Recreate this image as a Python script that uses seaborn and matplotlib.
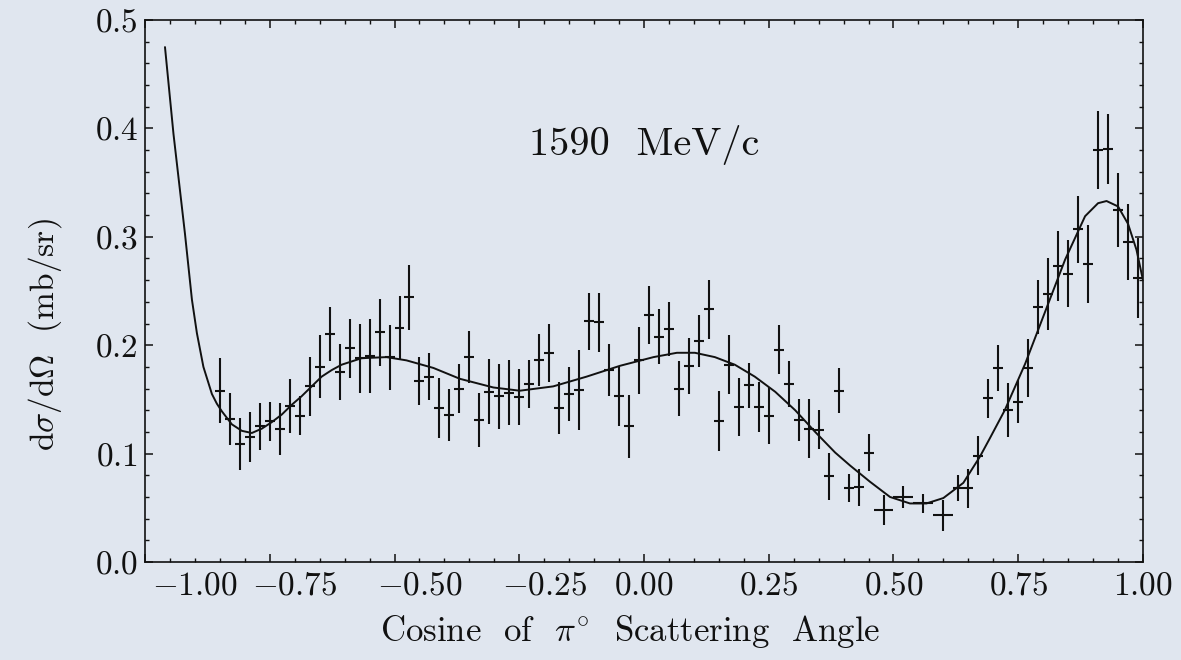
import numpy as np
import pandas as pd
import matplotlib
matplotlib.use("Agg")
import matplotlib.pyplot as plt
import matplotlib.transforms as mtransforms
from matplotlib.ticker import MultipleLocator
import seaborn as sns

# ---- data ----
cos_theta = [-0.85, -0.83, -0.81, -0.79, -0.77, -0.75, -0.73, -0.71, -0.69, -0.67,
             -0.65, -0.63, -0.61, -0.59, -0.57, -0.55, -0.53, -0.51, -0.49, -0.47,
             -0.45, -0.43, -0.41, -0.39, -0.37, -0.35, -0.33, -0.31, -0.29, -0.27,
             -0.25, -0.23, -0.21, -0.19, -0.17, -0.15, -0.13, -0.11, -0.09, -0.07,
             -0.05, -0.03, -0.01, 0.01, 0.03, 0.05, 0.07, 0.09, 0.11, 0.13,
             0.15, 0.17, 0.19, 0.21, 0.23, 0.25, 0.27, 0.29, 0.31, 0.33,
             0.35, 0.37, 0.39, 0.41, 0.43, 0.45, 0.48, 0.52, 0.56, 0.60,
             0.63, 0.65, 0.67, 0.69, 0.71, 0.73, 0.75, 0.77, 0.79, 0.81,
             0.83, 0.85, 0.87, 0.89, 0.91, 0.93, 0.95, 0.97, 0.99]
dsigma = [0.158, 0.132, 0.109, 0.115, 0.125, 0.130, 0.123, 0.144, 0.135, 0.162,
          0.180, 0.210, 0.175, 0.197, 0.188, 0.190, 0.212, 0.189, 0.216, 0.244,
          0.167, 0.171, 0.142, 0.136, 0.160, 0.189, 0.131, 0.157, 0.153, 0.156,
          0.152, 0.164, 0.186, 0.193, 0.142, 0.155, 0.159, 0.222, 0.221, 0.177,
          0.153, 0.125, 0.186, 0.228, 0.208, 0.215, 0.160, 0.181, 0.204, 0.233,
          0.130, 0.182, 0.143, 0.163, 0.143, 0.135, 0.196, 0.164, 0.131, 0.123,
          0.122, 0.079, 0.158, 0.068, 0.069, 0.101, 0.048, 0.060, 0.054, 0.043,
          0.068, 0.068, 0.098, 0.151, 0.179, 0.140, 0.148, 0.179, 0.235, 0.247,
          0.273, 0.266, 0.307, 0.275, 0.380, 0.381, 0.325, 0.295, 0.262]
dsigma_err = [0.030, 0.024, 0.024, 0.023, 0.022, 0.018, 0.024, 0.025, 0.018, 0.027,
              0.029, 0.025, 0.026, 0.027, 0.032, 0.034, 0.031, 0.030, 0.029, 0.030,
              0.022, 0.022, 0.028, 0.024, 0.023, 0.024, 0.025, 0.030, 0.030, 0.030,
              0.026, 0.022, 0.024, 0.027, 0.024, 0.025, 0.037, 0.026, 0.027, 0.024,
              0.028, 0.029, 0.031, 0.027, 0.025, 0.025, 0.025, 0.026, 0.024, 0.027,
              0.028, 0.027, 0.027, 0.021, 0.023, 0.026, 0.023, 0.021, 0.019, 0.027,
              0.018, 0.022, 0.021, 0.013, 0.017, 0.017, 0.014, 0.010, 0.009, 0.014,
              0.012, 0.018, 0.018, 0.018, 0.021, 0.025, 0.020, 0.027, 0.025, 0.033,
              0.032, 0.031, 0.031, 0.036, 0.036, 0.032, 0.034, 0.035, 0.037]
bin_half = [0.01] * 66 + [0.02] * 4 + [0.01] * 19

# fitted curve
fit_x = [-0.960, -0.943, -0.920, -0.906, -0.896, -0.883, -0.866, -0.856, -0.846, -0.826,
         -0.806, -0.786, -0.766, -0.746, -0.726, -0.706, -0.686, -0.666, -0.646, -0.626,
         -0.606, -0.586, -0.566, -0.516, -0.476, -0.422, -0.369, -0.302, -0.249, -0.182,
         -0.115, -0.048, 0.019, 0.066, 0.102, 0.142, 0.182, 0.222, 0.263, 0.303,
         0.343, 0.383, 0.413, 0.453, 0.493, 0.533, 0.566, 0.600, 0.640, 0.673,
         0.693, 0.723, 0.764, 0.804, 0.844, 0.884, 0.910, 0.927, 0.950, 0.970,
         0.987, 1.000]
fit_y = [0.475, 0.395, 0.303, 0.242, 0.211, 0.180, 0.155, 0.146, 0.139, 0.127,
         0.121, 0.119, 0.123, 0.129, 0.136, 0.145, 0.153, 0.162, 0.171, 0.177,
         0.182, 0.185, 0.188, 0.189, 0.186, 0.179, 0.169, 0.161, 0.158, 0.162,
         0.171, 0.181, 0.189, 0.193, 0.193, 0.189, 0.182, 0.171, 0.157, 0.140,
         0.120, 0.101, 0.089, 0.074, 0.060, 0.054, 0.054, 0.059, 0.073, 0.097,
         0.114, 0.140, 0.183, 0.231, 0.279, 0.319, 0.331, 0.333, 0.328, 0.312,
         0.288, 0.260]

title_text = "1590  MeV/c"
x_label = r"Cosine  of  $\pi^{\circ}$  Scattering  Angle"
y_label = r"d$\sigma$/d$\Omega$  (mb/sr)"

# ---- style ----
bg = "#e0e6ef"
ink = "#111111"
sns.set_theme(style="ticks")
plt.rcParams["font.family"] = ["cmr10", "DejaVu Serif"]
plt.rcParams["mathtext.fontset"] = "cm"
plt.rcParams["axes.formatter.use_mathtext"] = True
plt.rcParams["axes.unicode_minus"] = True

fig = plt.figure(figsize=(11.81, 6.60), dpi=100, facecolor=bg)
ax = fig.add_axes([0.1228, 0.1485, 0.8450, 0.8212], facecolor=bg)

df_pts = pd.DataFrame({"x": cos_theta, "y": dsigma, "ey": dsigma_err, "ex": bin_half})
df_fit = pd.DataFrame({"x": fit_x, "y": fit_y})

ax.errorbar(df_pts["x"], df_pts["y"], yerr=df_pts["ey"], xerr=df_pts["ex"],
            fmt="none", ecolor=ink, elinewidth=1.5, capsize=0)
sns.lineplot(data=df_fit, x="x", y="y", ax=ax, color=ink, linewidth=1.4,
             sort=False, estimator=None)

ax.set_xlim(-1.0, 1.0)
ax.set_ylim(0.0, 0.5)
ax.xaxis.set_major_locator(MultipleLocator(0.25))
ax.xaxis.set_minor_locator(MultipleLocator(0.05))
ax.yaxis.set_major_locator(MultipleLocator(0.1))
ax.yaxis.set_minor_locator(MultipleLocator(0.02))
ax.tick_params(which="both", direction="in", top=True, right=True,
               colors=ink, labelsize=24)
ax.tick_params(which="major", length=6, width=1.1)
ax.tick_params(which="minor", length=3, width=1.0)
ax.tick_params(axis="x", which="major", pad=7)
ax.tick_params(axis="y", which="major", pad=5)
for s in ax.spines.values():
    s.set_linewidth(1.2)
    s.set_color(ink)

ax.set_xlabel(x_label, fontsize=25, color=ink)
ax.set_ylabel(y_label, fontsize=24, color=ink)
ax.xaxis.set_label_coords(0.486, -0.129)
ax.xaxis.label.set_va("center")
ax.yaxis.set_label_coords(-0.100, 0.419)
ax.yaxis.label.set_va("center")

ax.text(0.0, 0.385, title_text, fontsize=29, ha="center", va="center", color=ink)

# the negative tick labels sit a little right of their ticks in the reference
fig.canvas.draw()
for tick in ax.xaxis.get_major_ticks():
    v = tick.get_loc()
    if v < -0.01:
        dx = 0.50 if v < -0.99 else 0.25
        lab = tick.label1
        lab.set_transform(lab.get_transform()
                          + mtransforms.ScaledTranslation(dx, 0, fig.dpi_scale_trans))

fig.savefig("out.png", dpi=100, facecolor=bg)
